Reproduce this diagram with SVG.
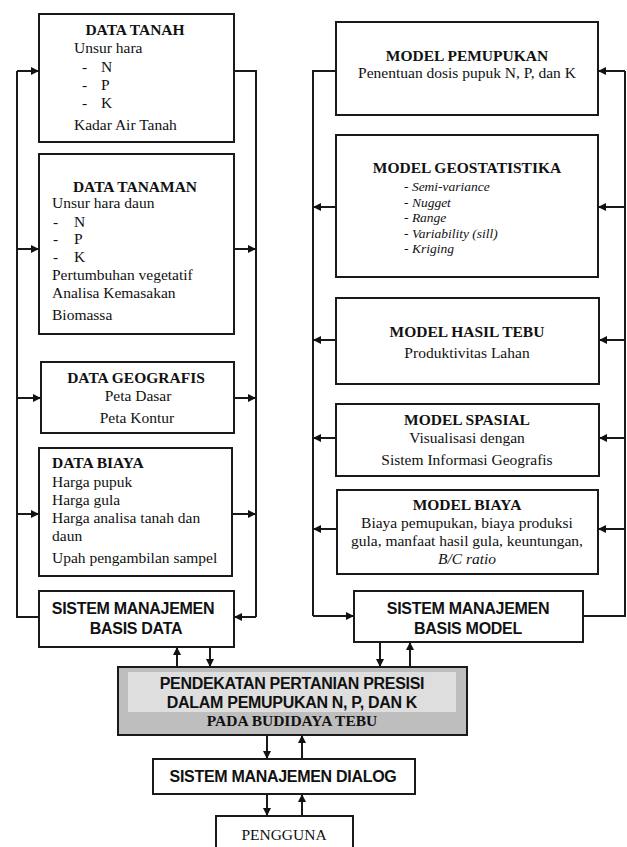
<svg xmlns="http://www.w3.org/2000/svg" width="627" height="847" viewBox="0 0 627 847">
<defs>
<marker id="ah" viewBox="0 0 10 10" refX="10" refY="5" markerWidth="9" markerHeight="8" markerUnits="userSpaceOnUse" orient="auto">
<path d="M0,0 L10,5 L0,10 Z" fill="#111"/>
</marker>
</defs>
<style>
.box{fill:#fff;stroke:#1a1a1a;stroke-width:2}
.ser{font-family:"Liberation Serif","Times New Roman",serif;font-size:15.5px;fill:#111}
.sb{font-family:"Liberation Serif","Times New Roman",serif;font-size:15.5px;font-weight:bold;fill:#111}
.sans{font-family:"Liberation Sans",Arial,sans-serif;font-size:16px;font-weight:bold;fill:#111;letter-spacing:-0.3px}
.it{font-style:italic}
.sm{font-size:13.5px}
.c{text-anchor:middle}
.ln{fill:none;stroke:#1a1a1a;stroke-width:2}
.ar{fill:none;stroke:#1a1a1a;stroke-width:2;marker-end:url(#ah)}
</style>
<rect width="627" height="847" fill="#fff"/>

<g id="data-tanah">
<rect class="box" x="39" y="14" width="195" height="128"/>
<text class="sb c" x="135" y="35">DATA TANAH</text>
<text class="ser" x="74" y="53">Unsur hara</text>
<text class="ser" x="82" y="72">-</text><text class="ser" x="101" y="72">N</text>
<text class="ser" x="82" y="90">-</text><text class="ser" x="101" y="90">P</text>
<text class="ser" x="82" y="108">-</text><text class="ser" x="101" y="108">K</text>
<text class="ser" x="74" y="130">Kadar Air Tanah</text>
</g>

<g id="data-tanaman">
<rect class="box" x="39" y="154" width="195" height="180"/>
<text class="sb c" x="135" y="192">DATA TANAMAN</text>
<text class="ser" x="52" y="208">Unsur hara daun</text>
<text class="ser" x="53" y="227">-</text><text class="ser" x="74" y="227">N</text>
<text class="ser" x="53" y="244">-</text><text class="ser" x="74" y="244">P</text>
<text class="ser" x="53" y="262">-</text><text class="ser" x="74" y="262">K</text>
<text class="ser" x="52" y="280">Pertumbuhan vegetatif</text>
<text class="ser" x="52" y="298">Analisa Kemasakan</text>
<text class="ser" x="52" y="320">Biomassa</text>
</g>

<g id="data-geografis">
<rect class="box" x="41" y="362" width="193" height="71"/>
<text class="sb c" x="136" y="383">DATA GEOGRAFIS</text>
<text class="ser c" x="138" y="401">Peta Dasar</text>
<text class="ser c" x="137" y="423">Peta Kontur</text>
</g>

<g id="data-biaya">
<rect class="box" x="39" y="448" width="193" height="128"/>
<text class="sb" x="52" y="468">DATA BIAYA</text>
<text class="ser" x="52" y="487">Harga pupuk</text>
<text class="ser" x="52" y="505">Harga gula</text>
<text class="ser" x="52" y="523">Harga analisa tanah dan</text>
<text class="ser" x="52" y="541">daun</text>
<text class="ser" x="52" y="563">Upah pengambilan sampel</text>
</g>

<g id="smbd">
<rect class="box" x="39" y="591" width="195" height="56"/>
<text class="sans c" x="133" y="614">SISTEM MANAJEMEN</text>
<text class="sans c" x="136" y="634">BASIS DATA</text>
</g>

<g id="model-pemupukan">
<rect class="box" x="336" y="22" width="262" height="93"/>
<text class="sb c" x="467" y="61">MODEL PEMUPUKAN</text>
<text class="ser c" x="467" y="78">Penentuan dosis pupuk N, P, dan K</text>
</g>

<g id="model-geostatistika">
<rect class="box" x="336" y="135" width="262" height="142"/>
<text class="sb c" x="467" y="173">MODEL GEOSTATISTIKA</text>
<text class="ser sm" x="404" y="191">- <tspan class="it">Semi-variance</tspan></text>
<text class="ser sm" x="404" y="206.5">- <tspan class="it">Nugget</tspan></text>
<text class="ser sm" x="404" y="222">- <tspan class="it">Range</tspan></text>
<text class="ser sm" x="404" y="237.5">- <tspan class="it">Variability (sill)</tspan></text>
<text class="ser sm" x="404" y="253">- <tspan class="it">Kriging</tspan></text>
</g>

<g id="model-hasil-tebu">
<rect class="box" x="336" y="298" width="263" height="86"/>
<text class="sb c" x="467" y="337">MODEL HASIL TEBU</text>
<text class="ser c" x="467" y="358">Produktivitas Lahan</text>
</g>

<g id="model-spasial">
<rect class="box" x="336" y="404" width="263" height="72"/>
<text class="sb c" x="467" y="425">MODEL SPASIAL</text>
<text class="ser c" x="467" y="443">Visualisasi dengan</text>
<text class="ser c" x="467" y="465">Sistem Informasi Geografis</text>
</g>

<g id="model-biaya">
<rect class="box" x="337" y="490" width="261" height="84"/>
<text class="sb c" x="467" y="510">MODEL BIAYA</text>
<text class="ser c" x="467" y="528">Biaya pemupukan, biaya produksi</text>
<text class="ser c" x="467" y="546">gula, manfaat hasil gula, keuntungan,</text>
<text class="ser c it" x="467" y="564">B/C ratio</text>
</g>

<g id="smbm">
<rect class="box" x="354" y="591" width="229" height="51"/>
<text class="sans c" x="468" y="614">SISTEM MANAJEMEN</text>
<text class="sans c" x="468" y="634">BASIS MODEL</text>
</g>

<g id="pendekatan">
<rect x="118" y="667" width="349" height="68" fill="#bebebe" stroke="#1a1a1a" stroke-width="2"/>
<rect x="128" y="672" width="328" height="40" fill="#dedede"/>
<text class="sans c" x="292" y="689">PENDEKATAN PERTANIAN PRESISI</text>
<text class="sans c" x="292" y="708">DALAM PEMUPUKAN N, P, DAN K</text>
<text class="sb c" x="292" y="726">PADA BUDIDAYA TEBU</text>
</g>

<g id="dialog">
<rect class="box" x="153" y="759" width="262" height="35"/>
<text class="sans c" x="283" y="782">SISTEM MANAJEMEN DIALOG</text>
</g>

<g id="pengguna">
<rect class="box" x="216" y="816" width="137" height="40"/>
<text class="ser c" x="284" y="840">PENGGUNA</text>
</g>

<g id="connectors">
<path class="ln" d="M39,617 H17 V71"/>
<path class="ar" d="M17,71 H39"/>
<path class="ar" d="M17,249 H39"/>
<path class="ar" d="M17,398 H41"/>
<path class="ar" d="M17,514 H39"/>
<path class="ln" d="M234,71 H256 V617"/>
<path class="ar" d="M234,249 H256"/>
<path class="ar" d="M234,398 H256"/>
<path class="ar" d="M232,514 H256"/>
<path class="ar" d="M256,617 H234"/>
<path class="ln" d="M336,71 H313 V616"/>
<path class="ar" d="M336,207 H313"/>
<path class="ar" d="M336,340 H313"/>
<path class="ar" d="M336,438 H313"/>
<path class="ar" d="M337,529 H313"/>
<path class="ar" d="M313,616 H354"/>
<path class="ln" d="M583,616 H625 V71"/>
<path class="ar" d="M625,71 H598"/>
<path class="ar" d="M625,207 H598"/>
<path class="ar" d="M625,340 H599"/>
<path class="ar" d="M625,438 H599"/>
<path class="ar" d="M625,529 H598"/>
<path class="ar" d="M177,667 V647"/>
<path class="ar" d="M210,647 V667"/>
<path class="ar" d="M380,642 V667"/>
<path class="ar" d="M410,667 V642"/>
<path class="ar" d="M267,735 V759"/>
<path class="ar" d="M302,759 V735"/>
<path class="ar" d="M267,794 V816"/>
<path class="ar" d="M302,816 V794"/>
</g>
</svg>
